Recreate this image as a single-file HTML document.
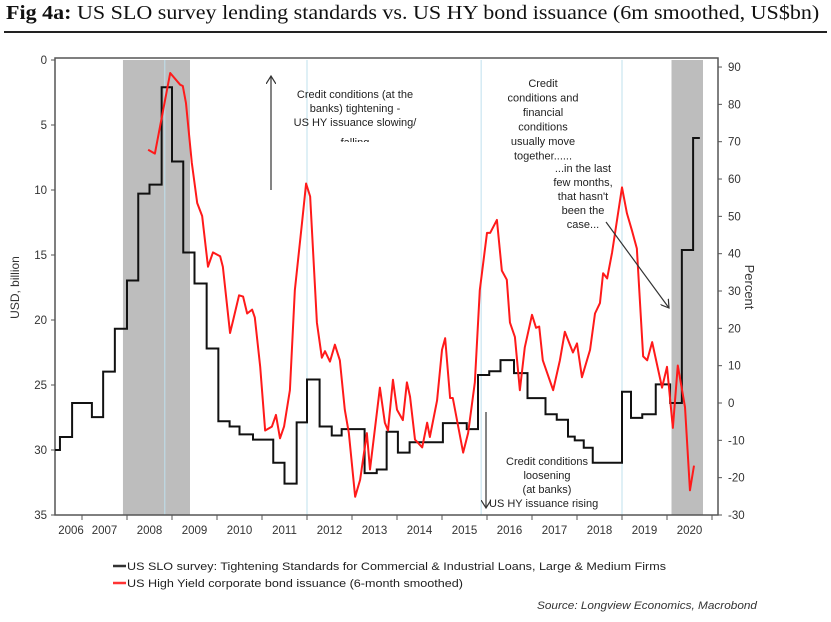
<!DOCTYPE html>
<html><head><meta charset="utf-8"><style>
body{margin:0;background:#fff;width:831px;height:622px;overflow:hidden;font-family:"Liberation Sans",sans-serif}
#title{position:absolute;left:6px;top:3px;font-family:"Liberation Serif",serif;font-size:19.5px;color:#111;white-space:nowrap;transform-origin:0 0;transform:scaleX(1.13)}
#rule{position:absolute;left:4px;top:31px;width:823px;height:2px;background:#222}
</style></head><body>
<div id="title"><b>Fig 4a:</b> US SLO survey lending standards vs. US HY bond issuance (6m smoothed, US$bn)</div>
<div id="rule"></div>
<svg id="chart" width="831" height="622" style="position:absolute;left:0;top:0"></svg>
<script>
const yearLabels=[2006,2007,2008,2009,2010,2011,2012,2013,2014,2015,2016,2017,2018,2019,2020];
const leftTicks=[0,5,10,15,20,25,30,35];
const rightTicks=[90,80,70,60,50,40,30,20,10,0,-10,-20,-30];
const recessions=[[2007.91,2009.4],[2020.1,2020.8]];
const markers=[2008.84,2012.0,2015.87,2019.0];
const blackYears=[2006.4,2006.51,2006.78,2007.22,2007.47,2007.73,2008.0,2008.25,2008.5,2008.77,2009.0,2009.25,2009.5,2009.77,2010.03,2010.28,2010.5,2010.8,2011.25,2011.5,2011.77,2012.0,2012.28,2012.55,2012.77,2013.28,2013.55,2013.77,2014.02,2014.28,2015.02,2015.55,2015.8,2016.05,2016.3,2016.6,2016.9,2017.3,2017.55,2017.8,2017.95,2018.15,2018.35,2019.0,2019.2,2019.45,2019.75,2020.07,2020.33,2020.58];
const blackPct=[-12.6,-9.1,0,-3.8,8.4,19.9,32.8,56.1,58.5,84.6,64.7,40.3,32,14.6,-4.9,-6.3,-8.4,-9.8,-16,-21.6,-5.2,6.3,-6.3,-8.7,-7,-18.8,-17.8,-7.7,-13.3,-10.5,-5.4,-7,7.5,8.5,11.5,8,1.3,-3,-4.5,-9,-10,-12,-16,3,-4,-3,5,0,41,71];
const blackEnd=2020.73;
const redYears=[2008.47,2008.62,2008.96,2009.18,2009.24,2009.31,2009.44,2009.56,2009.67,2009.8,2009.91,2010.07,2010.13,2010.29,2010.36,2010.49,2010.58,2010.67,2010.78,2010.84,2010.96,2011.07,2011.22,2011.31,2011.4,2011.49,2011.62,2011.73,2011.89,2011.98,2012.07,2012.22,2012.33,2012.4,2012.51,2012.62,2012.73,2012.84,2012.93,2013.07,2013.18,2013.33,2013.4,2013.62,2013.73,2013.8,2013.91,2014.0,2014.13,2014.22,2014.29,2014.4,2014.56,2014.67,2014.73,2014.89,2015.0,2015.07,2015.18,2015.24,2015.47,2015.58,2015.73,2015.84,2016.0,2016.07,2016.22,2016.33,2016.44,2016.51,2016.62,2016.73,2016.84,2017.0,2017.09,2017.16,2017.24,2017.47,2017.62,2017.73,2017.91,2018.0,2018.11,2018.29,2018.4,2018.51,2018.58,2018.67,2018.78,2019.0,2019.11,2019.22,2019.33,2019.47,2019.56,2019.67,2019.89,2020.0,2020.13,2020.24,2020.4,2020.51,2020.6];
const redVals=[6.9,7.2,1.0,1.9,2.0,3.3,7.9,11,12,15.9,14.8,15.1,15.9,21,20,18.1,18.2,19.5,19.2,19.8,23.6,28.5,28.2,27.3,29.1,28.2,25.4,17.7,12.5,9.5,10.5,20.2,22.9,22.4,23.2,21.9,23.1,26.9,28.7,33.6,32.3,28.7,31.5,25.2,27.9,28.5,24.6,26.9,27.7,24.8,25.9,29.2,29.8,27.9,29,26.2,22.3,21.4,26,26,30.2,28.7,24.8,17.7,13.3,13.3,12.3,16.2,16.9,20.2,21.3,25.4,22.1,19.6,20.6,20.5,23.1,25.4,23.1,20.9,22.5,21.8,24.4,22.3,19.5,18.7,16.4,16.8,14.8,9.8,11.8,13.1,14.5,22.8,23.1,21.7,25.2,23.6,28.3,23.5,26.7,33.1,31.2];

const L=55,R=718,T=60,B=515;
const x=y=>127+45*(y-2008);
const yL=v=>60+13*v;
const yR=p=>403-3.733*p;
const NS='http://www.w3.org/2000/svg';
const svg=document.getElementById('chart');
function mk(tag,attrs,parent){const e=document.createElementNS(NS,tag);for(const k in attrs)e.setAttribute(k,attrs[k]);(parent||svg).appendChild(e);return e;}
function txt(s,attrs){const e=mk('text',attrs);e.textContent=s;return e;}

recessions.forEach(r=>{const e=mk('rect',{x:x(r[0]),y:T,width:x(r[1])-x(r[0]),height:B-T,fill:'#bdbdbd'});

});
markers.forEach(m=>{const e=mk('line',{x1:x(m),x2:x(m),y1:T,y2:B,stroke:'#bfe0ee','stroke-width':1});

});

const frame=mk('rect',{x:L,y:T-2,width:R-L,height:B-T+2,fill:'none',stroke:'#555','stroke-width':1.5});



leftTicks.forEach(v=>{mk('line',{x1:L-4,x2:L,y1:yL(v),y2:yL(v),stroke:'#555'});
const t=txt(v,{x:L-8,y:yL(v)+4,'text-anchor':'end','font-size':11.5,fill:'#333'});

});
rightTicks.forEach(v=>{mk('line',{x1:R,x2:R+4,y1:yR(v),y2:yR(v),stroke:'#555'});
const t=txt(v,{x:R+10,y:yR(v)+4,'font-size':11.5,fill:'#333'});

});
yearLabels.forEach(yv=>{const xs=x(yv+1);if(xs<R)mk('line',{x1:xs,x2:xs,y1:B,y2:B+5,stroke:'#555'});
const c=Math.max((x(yv)+x(yv+1))/2, L+16);
const t=txt(yv,{x:c,y:B+19,'text-anchor':'middle','font-size':11.5,fill:'#333'});

});

let yt=txt('USD, billion',{x:0,y:0,transform:`translate(19,${(T+B)/2}) rotate(-90)`,'text-anchor':'middle','font-size':12,fill:'#333'});


let yt2=txt('Percent',{x:0,y:0,transform:`translate(745,287) rotate(90)`,'text-anchor':'middle','font-size':13,fill:'#333'});



let d='';
blackYears.forEach((yr,i)=>{const nx=i<blackYears.length-1?blackYears[i+1]:blackEnd;
d+=(i===0?'M':'L')+x(yr)+','+yR(blackPct[i])+' L'+x(nx)+','+yR(blackPct[i])+' ';});
const bl=mk('path',{d:d,fill:'none',stroke:'#111','stroke-width':2});


const rd=mk('path',{d:redYears.map((yr,i)=>(i?'L':'M')+x(yr)+','+yL(redVals[i])).join(' '),fill:'none',stroke:'#ff1a1a','stroke-width':2,'stroke-linejoin':'round'});



const defs=mk('defs',{});
const mkr=mk('marker',{id:'ah',markerWidth:10,markerHeight:10,refX:8,refY:5,orient:'auto',markerUnits:'userSpaceOnUse'},defs);
mk('path',{d:'M0,0 L8,5 L0,10',fill:'none',stroke:'#333','stroke-width':1.2},mkr);
function arrow(x1,y1,x2,y2,name){const a=mk('line',{x1,y1,x2,y2,stroke:'#333','stroke-width':1.2,'marker-end':'url(#ah)'});

}
arrow(271,190,271,76,'tightening-arrow');
arrow(486,412,486,508,'loosening-arrow');
arrow(606,222,669,308,'divergence-arrow');
function block(lines,cx,y0,lh,name,anchor){const g=mk('g',{});


lines.forEach((s,i)=>{const t=mk('text',{x:cx,y:y0+i*lh,'text-anchor':anchor||'middle','font-size':11,fill:'#222'},g);t.textContent=s;});}
block(['banks) tightening -','US HY issuance slowing/'],355,112,14,'tightening-note');
const clip=mk('clipPath',{id:'cp'},defs);mk('rect',{x:280,y:90,width:160,height:52},clip);
const g2=mk('g',{'clip-path':'url(#cp)'});


let t1=mk('text',{x:355,y:98,'text-anchor':'middle','font-size':11,fill:'#222'},g2);t1.textContent='Credit conditions (at the';
let t2=mk('text',{x:355,y:146,'text-anchor':'middle','font-size':11,fill:'#222'},g2);t2.textContent='falling';
block(['Credit','conditions and','financial','conditions','usually move','together......'],543,87,14.5,'usually-together-note');
block(['...in the last','few months,','that hasn\'t','been the','case...'],583,172,14,'divergence-note');
block(['Credit conditions','loosening','(at banks)'],547,465,14,'loosening-note');
block(['US HY issuance rising'],489,507,14,'issuance-rising-note','start');

function leg(y,color,label,len,name){const g=mk('g',{});


mk('line',{x1:113,x2:126,y1:y,y2:y,stroke:color,'stroke-width':2.5},g);
const t=mk('text',{x:127,y:y+4,'font-size':11,fill:'#222',textLength:len,lengthAdjust:'spacingAndGlyphs'},g);t.textContent=label;}
leg(566,'#333','US SLO survey: Tightening Standards for Commercial & Industrial Loans, Large & Medium Firms',539,'legend-slo');
leg(583,'#ff3333','US High Yield corporate bond issuance (6-month smoothed)',336,'legend-hy');
const src=txt('Source: Longview Economics, Macrobond',{x:537,y:609,'font-size':11,'font-style':'italic',fill:'#333',textLength:220,lengthAdjust:'spacingAndGlyphs'});


</script>
</body></html>
